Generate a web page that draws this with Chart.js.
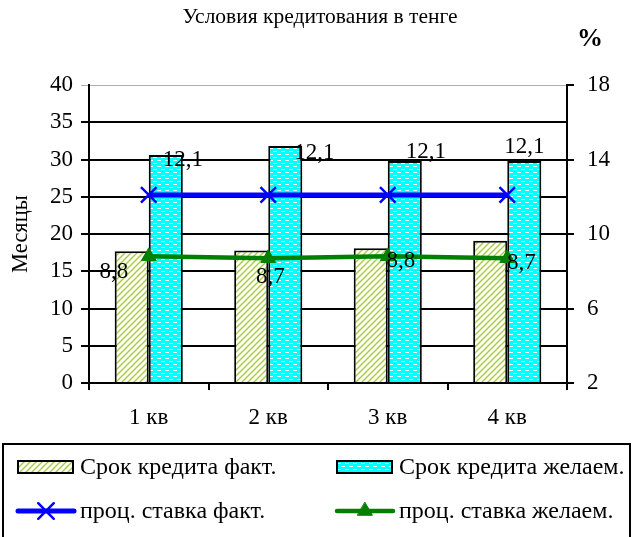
<!DOCTYPE html>
<html>
<head>
<meta charset="utf-8">
<script src="https://cdn.jsdelivr.net/npm/chart.js@4"></script>
<style>
  body { margin: 0; background: #fff; }
  #wrap { width: 633px; height: 537px; }
</style>
</head>
<body>
<div id="wrap"><canvas id="creditChart"></canvas></div>
<script>
const quarters = ['1 кв', '2 кв', '3 кв', '4 кв'];
const termFact = [17.7, 17.8, 18.1, 19.1];
const termWanted = [30.6, 31.8, 29.8, 29.8];
const rateFact = [12.1, 12.1, 12.1, 12.1];
const rateWanted = [8.8, 8.7, 8.8, 8.7];

const serif = '"Liberation Serif", "Times New Roman", serif';

// fill patterns like the old excel ones
function hatchPattern() {
  const c = document.createElement('canvas');
  c.width = 6; c.height = 6;
  const g = c.getContext('2d');
  g.fillStyle = '#fff';
  g.fillRect(0, 0, 6, 6);
  g.strokeStyle = '#a8cc3a';
  g.lineWidth = 1.4;
  g.beginPath();
  g.moveTo(0, 6); g.lineTo(6, 0);
  g.moveTo(-1, 1); g.lineTo(1, -1);
  g.moveTo(5, 7); g.lineTo(7, 5);
  g.stroke();
  return g.createPattern(c, 'repeat');
}

function dashPattern() {
  const c = document.createElement('canvas');
  c.width = 8; c.height = 6;
  const g = c.getContext('2d');
  g.fillStyle = '#00ffff';
  g.fillRect(0, 0, 8, 6);
  g.fillStyle = '#fff';
  g.fillRect(1, 1, 4, 1);
  g.fillRect(5, 4, 3, 1);
  g.fillRect(0, 4, 1, 1);
  return g.createPattern(c, 'repeat');
}

const titles = {
  id: 'titles',
  afterDraw(chart) {
    const ctx = chart.ctx;
    ctx.save();
    ctx.fillStyle = '#000';
    ctx.textAlign = 'center';
    ctx.textBaseline = 'middle';
    ctx.font = '21.5px ' + serif;
    ctx.fillText('Условия кредитования в тенге', 320, 17);
    ctx.font = 'bold 26px ' + serif;
    ctx.fillText('%', 590, 39);
    ctx.restore();
  }
};

const valueLabels = {
  id: 'valueLabels',
  afterDatasetsDraw(chart, args, opts) {
    const ctx = chart.ctx;
    ctx.save();
    ctx.fillStyle = '#000';
    ctx.font = '23px ' + serif;
    ctx.textAlign = 'center';
    ctx.textBaseline = 'middle';
    Object.keys(opts.offsets).forEach(di => {
      const meta = chart.getDatasetMeta(+di);
      const vals = chart.data.datasets[di].data;
      meta.data.forEach((pt, i) => {
        const [dx, dy] = opts.offsets[di][i];
        ctx.fillText(vals[i].toFixed(1).replace('.', ','), pt.x + dx, pt.y + dy);
      });
    });
    ctx.restore();
  }
};

const boxLegend = {
  id: 'boxLegend',
  afterDraw(chart) {
    const ctx = chart.ctx;
    const ds = chart.data.datasets;
    ctx.save();
    ctx.strokeStyle = '#000';
    ctx.lineWidth = 2;
    ctx.strokeRect(3, 444, 627, 100);

    const cols = [18, 337];
    const rows = [467, 511];
    ctx.font = '24px ' + serif;
    ctx.textBaseline = 'middle';
    ds.forEach((d, i) => {
      const x = cols[i % 2];
      const y = rows[Math.floor(i / 2)];
      if (d.type === 'line') {
        ctx.strokeStyle = d.borderColor;
        ctx.lineWidth = d.borderWidth;
        ctx.lineCap = 'round';
        ctx.beginPath();
        ctx.moveTo(x, y); ctx.lineTo(x + 56, y);
        ctx.stroke();
        ctx.fillStyle = d.pointBackgroundColor;
        ctx.strokeStyle = d.pointBorderColor;
        ctx.lineWidth = d.pointBorderWidth;
        Chart.helpers.drawPoint(ctx, {
          pointStyle: d.pointStyle, radius: d.pointRadius, rotation: 0, borderWidth: d.pointBorderWidth
        }, x + 28, y);
      } else {
        ctx.fillStyle = d.backgroundColor;
        ctx.fillRect(x, y - 6, 55, 12);
        ctx.strokeStyle = '#000';
        ctx.lineWidth = 2;
        ctx.strokeRect(x, y - 6, 55, 12);
      }
      ctx.fillStyle = '#000';
      ctx.textAlign = 'left';
      ctx.fillText(d.label, x + 62, y + 1);
    });
    ctx.restore();
  }
};

const ctx = document.getElementById('creditChart').getContext('2d');

new Chart(ctx, {
  data: {
    labels: quarters,
    datasets: [
      {
        type: 'bar',
        label: 'Срок кредита факт.',
        data: termFact,
        yAxisID: 'y',
        backgroundColor: hatchPattern(),
        borderColor: '#000',
        borderWidth: 2,
        categoryPercentage: 0.57,
        barPercentage: 1.0,
        order: 2
      },
      {
        type: 'bar',
        label: 'Срок кредита желаем.',
        data: termWanted,
        yAxisID: 'y',
        backgroundColor: dashPattern(),
        borderColor: '#000',
        borderWidth: 2,
        categoryPercentage: 0.57,
        barPercentage: 1.0,
        order: 2
      },
      {
        type: 'line',
        label: 'проц. ставка факт.',
        data: rateFact,
        yAxisID: 'y1',
        borderColor: '#0000ff',
        borderWidth: 5,
        pointStyle: 'crossRot',
        pointRadius: 11,
        pointBorderWidth: 2.5,
        pointBorderColor: '#0000ff',
        pointBackgroundColor: '#0000ff',
        order: 0
      },
      {
        type: 'line',
        label: 'проц. ставка желаем.',
        data: rateWanted,
        yAxisID: 'y1',
        borderColor: '#008000',
        borderWidth: 4.5,
        pointStyle: 'triangle',
        pointRadius: 8.5,
        pointBorderWidth: 1,
        pointBorderColor: '#008000',
        pointBackgroundColor: '#008000',
        order: 1
      }
    ]
  },
  options: {
    responsive: true,
    maintainAspectRatio: false,
    animation: false,
    layout: { padding: { top: 85, left: 0, right: 0, bottom: 94 } },
    plugins: {
      legend: { display: false },
      tooltip: { enabled: false },
      valueLabels: {
        offsets: {
          2: [[34, -35], [46, -42], [38, -43], [17, -48]],
          3: [[-35, 16], [2, 19], [13, 5], [14, 5]]
        }
      }
    },
    scales: {
      x: {
        grid: { offset: true, drawOnChartArea: false, color: '#000', lineWidth: 2, tickLength: 7 },
        border: { color: '#000', width: 2 },
        ticks: { color: '#000', font: { family: serif, size: 23 }, padding: 14 },
        afterFit(s) { s.height = 60; }
      },
      y: {
        position: 'left',
        min: 0,
        max: 40,
        ticks: { stepSize: 5, color: '#000', font: { family: serif, size: 23 }, padding: 8 },
        grid: {
          color: c => c.tick && c.tick.value === 40 ? '#b0b0b0' : '#000',
          lineWidth: c => c.tick && c.tick.value === 40 ? 1 : 2,
          tickLength: 8
        },
        border: { color: '#000', width: 2 },
        title: { display: true, text: 'Месяцы', color: '#000', font: { family: serif, size: 22.5 }, padding: { top: 8, bottom: 0 } },
        afterFit(s) { s.width = 89; }
      },
      y1: {
        position: 'right',
        min: 2,
        max: 18,
        ticks: {
          stepSize: 2,
          color: '#000',
          font: { family: serif, size: 23 },
          padding: 13,
          callback: v => ((v - 2) % 4 === 0 ? v : '')
        },
        grid: {
          drawOnChartArea: false,
          color: c => c.tick && (c.tick.value - 2) % 4 === 0 ? '#000' : 'rgba(0,0,0,0)',
          lineWidth: 2,
          tickLength: 7
        },
        border: { color: '#000', width: 2 },
        afterFit(s) { s.width = 66; }
      }
    }
  },
  plugins: [titles, valueLabels, boxLegend]
});
</script>
</body>
</html>
